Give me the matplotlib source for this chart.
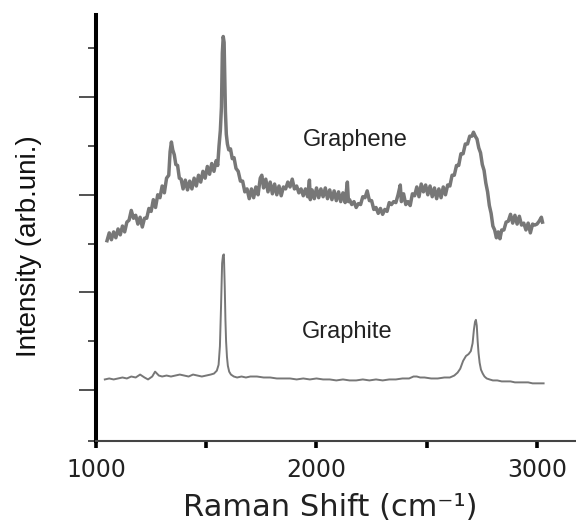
import matplotlib
matplotlib.use("Agg")
import matplotlib.pyplot as plt
from matplotlib.ticker import FixedLocator, NullFormatter

# ---------------- data ----------------
graphene_x = [1050, 1060, 1070, 1080, 1090, 1100, 1110, 1120, 1130, 1140,
              1150, 1160, 1170, 1180, 1190, 1200, 1210, 1220, 1230, 1240,
              1250, 1260, 1270, 1280, 1290, 1300, 1310, 1320, 1330, 1336,
              1342, 1348, 1355, 1362, 1370, 1378, 1386, 1395, 1405, 1415,
              1425, 1435, 1445, 1455, 1465, 1475, 1485, 1495, 1505, 1515,
              1525, 1535, 1545, 1552, 1558, 1564, 1569, 1573, 1577, 1581,
              1584, 1587, 1591, 1596, 1602, 1610, 1618, 1626, 1635, 1645,
              1655, 1665, 1675, 1685, 1695, 1705, 1715, 1725, 1735, 1745,
              1752, 1760, 1770, 1780, 1790, 1800, 1810, 1820, 1830, 1840,
              1850, 1860, 1870, 1880, 1890, 1900, 1910, 1920, 1930, 1940,
              1950, 1960, 1968, 1972, 1980, 1990, 2000, 2010, 2020, 2030,
              2040, 2050, 2060, 2070, 2080, 2090, 2100, 2110, 2120, 2130,
              2140, 2145, 2150, 2160, 2170, 2180, 2190, 2200, 2210, 2220,
              2230, 2240, 2250, 2260, 2270, 2280, 2290, 2300, 2310, 2320,
              2330, 2340, 2350, 2360, 2370, 2380, 2385, 2395, 2405, 2415,
              2425, 2435, 2445, 2455, 2465, 2475, 2485, 2495, 2505, 2515,
              2525, 2535, 2545, 2555, 2565, 2575, 2585, 2595, 2605, 2615,
              2625, 2635, 2645, 2655, 2665, 2675, 2685, 2695, 2705, 2712,
              2720, 2728, 2736, 2744, 2752, 2760, 2768, 2776, 2784, 2792,
              2800, 2808, 2816, 2824, 2832, 2840, 2850, 2860, 2870, 2880,
              2890, 2900, 2910, 2920, 2930, 2940, 2950, 2960, 2970, 2980,
              2990, 3000, 3010, 3020, 3025]
graphene_y = [2.53, 2.61, 2.54, 2.62, 2.56, 2.65, 2.59, 2.68, 2.62, 2.72,
              2.74, 2.84, 2.76, 2.79, 2.70, 2.77, 2.67, 2.76, 2.76, 2.86,
              2.83, 2.95, 2.87, 3.00, 2.97, 3.09, 3.02, 3.17, 3.20, 3.44,
              3.54, 3.46, 3.41, 3.31, 3.30, 3.17, 3.16, 3.06, 3.15, 3.05,
              3.14, 3.06, 3.17, 3.09, 3.20, 3.13, 3.24, 3.17, 3.29, 3.21,
              3.32, 3.24, 3.35, 3.30, 3.50, 3.66, 3.90, 4.45, 4.62, 4.56,
              4.20, 3.85, 3.62, 3.52, 3.46, 3.47, 3.37, 3.38, 3.27, 3.24,
              3.14, 3.14, 3.03, 3.06, 2.96, 3.06, 2.97, 3.08, 3.00, 3.17,
              3.20, 3.07, 3.16, 3.03, 3.13, 3.01, 3.11, 3.00, 3.09, 2.99,
              3.08, 3.06, 3.13, 3.08, 3.16, 3.06, 3.09, 3.02, 3.06, 2.99,
              3.06, 2.98, 3.15, 2.95, 3.05, 2.96, 3.07, 2.97, 3.06, 2.98,
              3.07, 2.96, 3.05, 2.95, 3.04, 2.94, 3.03, 2.93, 3.02, 2.92,
              3.13, 2.93, 2.95, 2.90, 2.93, 2.87, 2.91, 2.90, 2.98, 2.97,
              3.04, 2.94, 2.94, 2.85, 2.87, 2.81, 2.86, 2.80, 2.85, 2.83,
              2.92, 2.90, 2.93, 2.92, 3.00, 3.10, 2.93, 3.01, 2.90, 2.93,
              2.89, 3.01, 2.99, 3.08, 2.98, 3.11, 3.03, 3.10, 3.00, 3.09,
              2.98, 3.07, 2.96, 3.06, 2.97, 3.08, 3.00, 3.10, 3.09, 3.20,
              3.20, 3.30, 3.30, 3.42, 3.42, 3.52, 3.52, 3.60, 3.60, 3.64,
              3.60, 3.57, 3.48, 3.43, 3.31, 3.25, 3.12, 3.03, 2.89, 2.81,
              2.68, 2.64, 2.56, 2.62, 2.55, 2.64, 2.64, 2.72, 2.73, 2.80,
              2.71, 2.79, 2.70, 2.78, 2.69, 2.71, 2.64, 2.71, 2.61, 2.70,
              2.69, 2.70, 2.73, 2.77, 2.72]

graphite_x = [1040, 1060, 1080, 1100, 1120, 1140, 1160, 1180, 1200, 1220,
              1236, 1255, 1268, 1285, 1300, 1320, 1340, 1360, 1380, 1400,
              1420, 1440, 1460, 1480, 1500, 1520, 1535, 1548, 1556, 1562,
              1567, 1572, 1576, 1580, 1584, 1587, 1590, 1594, 1598, 1604,
              1612, 1625, 1640, 1660, 1680, 1700, 1730, 1760, 1790, 1820,
              1850, 1880, 1910, 1940, 1970, 2000, 2030, 2060, 2090, 2120,
              2150, 2180, 2210, 2240, 2270, 2300, 2330, 2360, 2390, 2420,
              2440, 2455, 2470, 2490, 2520, 2550, 2580, 2605, 2625, 2640,
              2652, 2665, 2678, 2690, 2700, 2708, 2714, 2719, 2723, 2727,
              2731, 2735, 2740, 2746, 2754, 2762, 2772, 2785, 2800, 2820,
              2840, 2860, 2880, 2900, 2920, 2940, 2960, 2980, 3000, 3015,
              3030]
graphite_y = [1.11, 1.12, 1.11, 1.12, 1.13, 1.12, 1.14, 1.13, 1.16, 1.13,
              1.11, 1.14, 1.19, 1.15, 1.14, 1.15, 1.14, 1.15, 1.16, 1.15,
              1.14, 1.16, 1.15, 1.14, 1.15, 1.16, 1.17, 1.20, 1.26, 1.45,
              1.85, 2.30, 2.38, 2.39, 2.05, 1.72, 1.50, 1.34, 1.25, 1.19,
              1.16, 1.14, 1.13, 1.14, 1.13, 1.14, 1.14, 1.13, 1.13, 1.12,
              1.12, 1.12, 1.11, 1.12, 1.11, 1.12, 1.11, 1.11, 1.10, 1.11,
              1.10, 1.10, 1.11, 1.10, 1.11, 1.10, 1.11, 1.11, 1.12, 1.12,
              1.14, 1.14, 1.13, 1.13, 1.12, 1.12, 1.13, 1.13, 1.15, 1.18,
              1.22, 1.30, 1.35, 1.37, 1.40, 1.48, 1.62, 1.70, 1.72, 1.66,
              1.50, 1.38, 1.28, 1.21, 1.17, 1.14, 1.12, 1.11, 1.10, 1.10,
              1.09, 1.09, 1.09, 1.08, 1.08, 1.08, 1.08, 1.07, 1.07, 1.07,
              1.07]

x_major_ticks = [1000, 2000, 3000]
x_minor_ticks = [1500, 2500]
x_tick_labels = ["1000", "2000", "3000"]
y_major_ticks = [1, 2, 3, 4]
y_minor_ticks = [0.48, 1.5, 2.5, 3.5, 4.5]

labels = ["Graphene", "Graphite"]
label_pos = [(2175, 3.56), (2138, 1.60)]

xlabel = "Raman Shift (cm⁻¹)"
ylabel = "Intensity (arb.uni.)"

# ---------------- figure ----------------
W, H, DPI = 576, 524, 100
fig = plt.figure(figsize=(W / DPI, H / DPI), dpi=DPI)
ax = fig.add_axes([96 / W, 83 / H, (W - 96) / W, (509 - 83) / H])

line_color = "#777777"
ax.plot(graphene_x, graphene_y, color=line_color, lw=2.5)
ax.plot(graphite_x, graphite_y, color=line_color, lw=1.4)

ax.set_xlim(1000, 3177)
ax.set_ylim(0.48, 4.84)

for s in ("top", "right"):
    ax.spines[s].set_visible(False)
ax.spines["left"].set_linewidth(2.9)
ax.spines["left"].set_color("black")
ax.spines["bottom"].set_linewidth(1.5)
ax.spines["bottom"].set_color("#444444")

ax.xaxis.set_major_locator(FixedLocator(x_major_ticks))
ax.xaxis.set_minor_locator(FixedLocator(x_minor_ticks))
ax.set_xticklabels(x_tick_labels)
ax.yaxis.set_major_locator(FixedLocator(y_major_ticks))
ax.yaxis.set_minor_locator(FixedLocator(y_minor_ticks))
ax.yaxis.set_major_formatter(NullFormatter())

ax.tick_params(axis="x", which="both", direction="out", length=5, width=2.6,
               color="black", labelsize=17, pad=7, labelcolor="#222222")
ax.tick_params(axis="y", which="major", direction="out", length=12, width=1.1,
               color="#222222")
ax.tick_params(axis="y", which="minor", direction="out", length=5.8, width=1.1,
               color="#222222")
for t in ax.get_xticklabels():
    t.set_fontfamily("DejaVu Sans")

for txt, (lx, ly) in zip(labels, label_pos):
    ax.text(lx, ly, txt, ha="center", va="center", fontsize=17,
            family="Liberation Sans", color="#222222")

fig.text(330 / W, 1 - 508 / H, xlabel, ha="center", va="center",
         fontsize=22, family="DejaVu Sans", color="#222222")
fig.text(29 / W, 1 - 246 / H, ylabel, ha="center", va="center",
         rotation=90, fontsize=20, family="Liberation Sans", color="#111111")

fig.savefig("out.png", dpi=DPI)
